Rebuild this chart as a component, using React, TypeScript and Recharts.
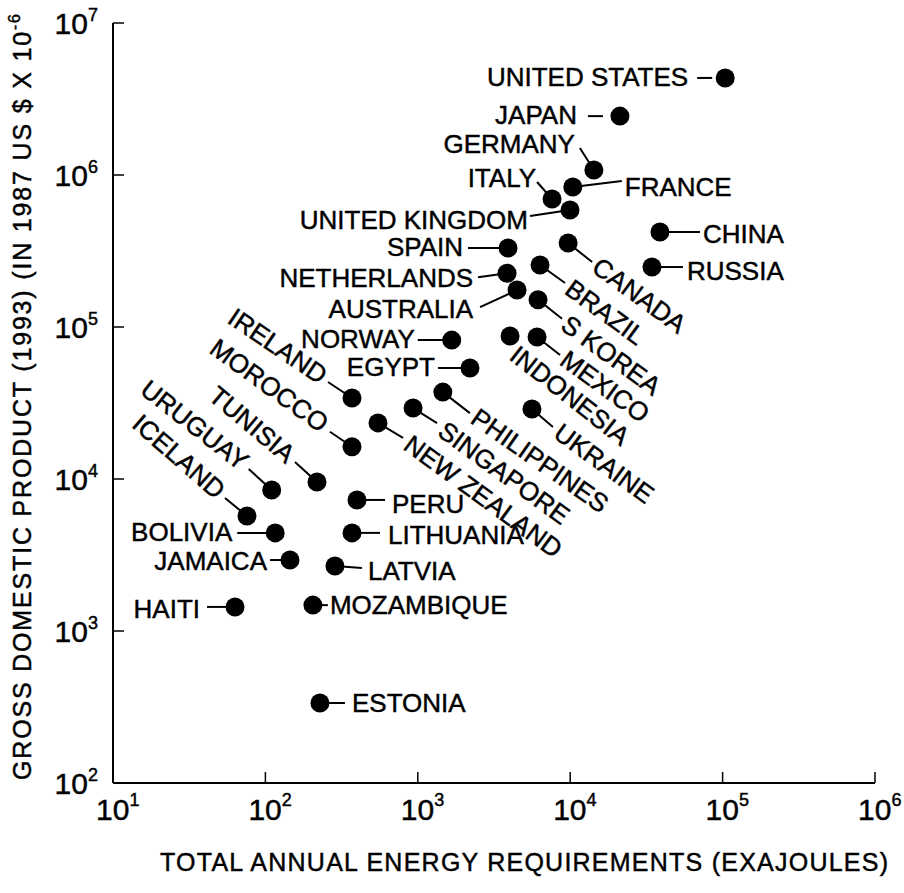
import React from 'react';
import { ScatterChart, Scatter, XAxis, YAxis } from 'recharts';

// Values
const countries = [
  'UNITED STATES', 'JAPAN', 'GERMANY', 'FRANCE', 'ITALY', 'UNITED KINGDOM', 'SPAIN', 'CANADA',
  'NETHERLANDS', 'BRAZIL', 'AUSTRALIA', 'S KOREA', 'CHINA', 'RUSSIA', 'NORWAY', 'INDONESIA',
  'MEXICO', 'EGYPT', 'IRELAND', 'PHILIPPINES', 'SINGAPORE', 'UKRAINE', 'NEW ZEALAND', 'MOROCCO',
  'TUNISIA', 'URUGUAY', 'PERU', 'ICELAND', 'BOLIVIA', 'LITHUANIA', 'JAMAICA', 'LATVIA',
  'HAITI', 'MOZAMBIQUE', 'ESTONIA',
];
const energy = [
  104000, 21200, 14300, 10400, 7600, 9970, 3910, 9690,
  3850, 6340, 4480, 6150, 38800, 34400, 1670, 4030,
  6060, 2200, 370, 1460, 931, 5610, 548, 370,
  218, 110, 399, 75.7, 116, 370, 145, 286,
  63.2, 205, 228,
];
const gdp = [
  4350000, 2440000, 1080000, 834000, 695000, 589000, 331000, 357000,
  226000, 256000, 175000, 151000, 422000, 248000, 82000, 87300,
  86000, 53700, 34100, 37300, 29300, 28900, 23400, 16300,
  9550, 8470, 7280, 5710, 4420, 4420, 2930, 2680,
  1440, 1480, 336,
];
const xTicks = [10, 100, 1000, 10000, 100000, 1000000];
const yTicks = [100, 1000, 10000, 100000, 1000000, 10000000];

const data = countries.map((name, i) => ({ name, energy: energy[i], gdp: gdp[i] }));

const FONT = '"Liberation Sans", Arial, Helvetica, sans-serif';
// the scanned lettering is a little heavier than a plain sans
const ink = { fill: '#000', stroke: '#000', strokeWidth: 0.45 };

// label placement relative to each dot: text point, rotation, anchor, leader line
type Place = { tx: number; ty: number; a: number; anchor: 'start' | 'end'; line?: number[] };
const R = 36;
const place: Record<string, Place> = {
  'UNITED STATES': { tx: -37, ty: 0, a: 0, anchor: 'end', line: [-28, 0, -13, 0] },
  JAPAN: { tx: -43, ty: 0, a: 0, anchor: 'end', line: [-32, 0, -17, 0] },
  GERMANY: { tx: -19, ty: -25, a: 0, anchor: 'end', line: [-14, -22, 0, 0] },
  FRANCE: { tx: 52, ty: 1, a: 0, anchor: 'start', line: [0, 0, 49, -6] },
  ITALY: { tx: -16, ty: -20, a: 0, anchor: 'end', line: [-15, -17, 0, 0] },
  'UNITED KINGDOM': { tx: -42, ty: 11, a: 0, anchor: 'end', line: [-40, 6, 0, 0] },
  SPAIN: { tx: -45, ty: 0, a: 0, anchor: 'end', line: [-40, 0, 0, 0] },
  CANADA: { tx: 27, ty: 21, a: R, anchor: 'start', line: [0, 0, 24, 19] },
  NETHERLANDS: { tx: -34, ty: 5, a: 0, anchor: 'end', line: [-29, 4, 0, 0] },
  BRAZIL: { tx: 28, ty: 21, a: R, anchor: 'start', line: [0, 0, 25, 18] },
  AUSTRALIA: { tx: -44, ty: 20, a: 0, anchor: 'end', line: [-37, 17, 0, 0] },
  'S KOREA': { tx: 26, ty: 22, a: R, anchor: 'start', line: [0, 0, 24, 19] },
  CHINA: { tx: 43, ty: 3, a: 0, anchor: 'start', line: [0, 0, 40, 0] },
  RUSSIA: { tx: 35, ty: 5, a: 0, anchor: 'start', line: [0, 0, 31, 0] },
  NORWAY: { tx: -37, ty: 0, a: 0, anchor: 'end', line: [-34, 0, 0, 0] },
  INDONESIA: { tx: 3, ty: 16, a: 38, anchor: 'start' },
  MEXICO: { tx: 26, ty: 20, a: R, anchor: 'start', line: [0, 0, 23, 18] },
  EGYPT: { tx: -35, ty: 0, a: 0, anchor: 'end', line: [-32, 0, 0, 0] },
  IRELAND: { tx: -28, ty: -20, a: 34, anchor: 'end', line: [-24, -16, 0, 0] },
  PHILIPPINES: { tx: 31, ty: 23, a: 35, anchor: 'start', line: [0, 0, 27, 21] },
  SINGAPORE: { tx: 28, ty: 20, a: R, anchor: 'start', line: [0, 0, 24, 15] },
  UKRAINE: { tx: 25, ty: 21, a: R, anchor: 'start', line: [0, 0, 21, 18] },
  'NEW ZEALAND': { tx: 29, ty: 19, a: R, anchor: 'start', line: [0, 0, 25, 15] },
  MOROCCO: { tx: -27, ty: -20, a: R, anchor: 'end', line: [-22, -15, 0, 0] },
  TUNISIA: { tx: -26, ty: -24, a: 40, anchor: 'end', line: [-22, -20, 0, 0] },
  URUGUAY: { tx: -27, ty: -25, a: 38, anchor: 'end', line: [-23, -21, 0, 0] },
  PERU: { tx: 35, ty: 5, a: 0, anchor: 'start', line: [0, 0, 28, 0] },
  ICELAND: { tx: -26, ty: -22, a: 41, anchor: 'end', line: [-22, -18, 0, 0] },
  BOLIVIA: { tx: -43, ty: 0, a: 0, anchor: 'end', line: [-38, 0, 0, 0] },
  LITHUANIA: { tx: 36, ty: 3, a: 0, anchor: 'start', line: [0, 0, 28, 0] },
  JAMAICA: { tx: -23, ty: 2, a: 0, anchor: 'end', line: [-20, 0, 0, 0] },
  LATVIA: { tx: 33, ty: 6, a: 0, anchor: 'start', line: [0, 0, 27, 2] },
  HAITI: { tx: -35, ty: 3, a: 0, anchor: 'end', line: [-28, 0, 0, 0] },
  MOZAMBIQUE: { tx: 17, ty: 1, a: 0, anchor: 'start', line: [0, 0, 15, 0] },
  ESTONIA: { tx: 32, ty: 1, a: 0, anchor: 'start', line: [0, 0, 25, 0] },
};

const CountryMark = (props: any) => {
  const { cx, cy, payload } = props;
  const p = place[payload.name];
  return (
    <g>
      {p.line && (
        <line
          x1={cx + p.line[0]} y1={cy + p.line[1]} x2={cx + p.line[2]} y2={cy + p.line[3]}
          stroke="#000" strokeWidth={2}
        />
      )}
      <circle cx={cx} cy={cy} r={9.5} fill="#000" />
      <text
        transform={`translate(${cx + p.tx},${cy + p.ty}) rotate(${p.a})`}
        textAnchor={p.anchor}
        dy="0.32em"
        fontFamily={FONT}
        fontSize={26}
        {...ink}
      >
        {payload.name}
      </text>
    </g>
  );
};

const exp = (v: number) => String(Math.round(Math.log10(v)));

const XTick = (props: any) => {
  const { x, y, payload } = props;
  return (
    <g>
      <line x1={x} y1={y} x2={x} y2={y - 11} stroke="#000" strokeWidth={1.5} />
      <text x={x - 17} y={y + 37} fontFamily={FONT} fontSize={30} {...ink}>
        10<tspan dy={-14} fontSize={18}>{exp(payload.value)}</tspan>
      </text>
    </g>
  );
};

const YTick = (props: any) => {
  const { x, y, payload } = props;
  return (
    <g>
      <line x1={x} y1={y} x2={x + 11} y2={y} stroke="#000" strokeWidth={1.5} />
      <text x={x - 15} y={y + 11} textAnchor="end" fontFamily={FONT} fontSize={30} {...ink}>
        10<tspan dy={-13} fontSize={18}>{exp(payload.value)}</tspan>
      </text>
    </g>
  );
};

const XTitle = (props: any) => {
  const { viewBox } = props;
  return (
    <text
      x={viewBox.x + 47} y={viewBox.y + 88}
      fontFamily={FONT} fontSize={25} {...ink}
      textLength={728} lengthAdjust="spacing"
    >
      TOTAL ANNUAL ENERGY REQUIREMENTS (EXAJOULES)
    </text>
  );
};

const YTitle = () => (
  <text
    transform="translate(31,780) rotate(-90)"
    fontFamily={FONT} fontSize={25} {...ink}
    textLength={766} lengthAdjust="spacing"
  >
    GROSS DOMESTIC PRODUCT (1993) (IN 1987 US $ X 10<tspan dy={-11} fontSize={16}>-6</tspan>
  </text>
);

export default function App() {
  return (
    <div style={{ position: 'absolute', left: 0, top: 0, width: 904, height: 893, background: '#fff' }}>
      <ScatterChart width={904} height={893} margin={{ top: 23, right: 29, bottom: 0, left: 0 }}>
        <XAxis
          type="number"
          dataKey="energy"
          scale="log"
          domain={[10, 1000000]}
          ticks={xTicks}
          height={110}
          tickSize={0}
          tickMargin={0}
          tickLine={false}
          axisLine={{ stroke: '#000', strokeWidth: 2 }}
          tick={<XTick />}
          interval={0}
          label={<XTitle />}
        />
        <YAxis
          type="number"
          dataKey="gdp"
          scale="log"
          domain={[100, 10000000]}
          ticks={yTicks}
          width={113}
          tickSize={0}
          tickMargin={0}
          tickLine={false}
          axisLine={{ stroke: '#000', strokeWidth: 2 }}
          tick={<YTick />}
          interval={0}
          label={<YTitle />}
        />
        <Scatter data={data} shape={(p: any) => <CountryMark {...p} />} isAnimationActive={false} />
      </ScatterChart>
    </div>
  );
}
